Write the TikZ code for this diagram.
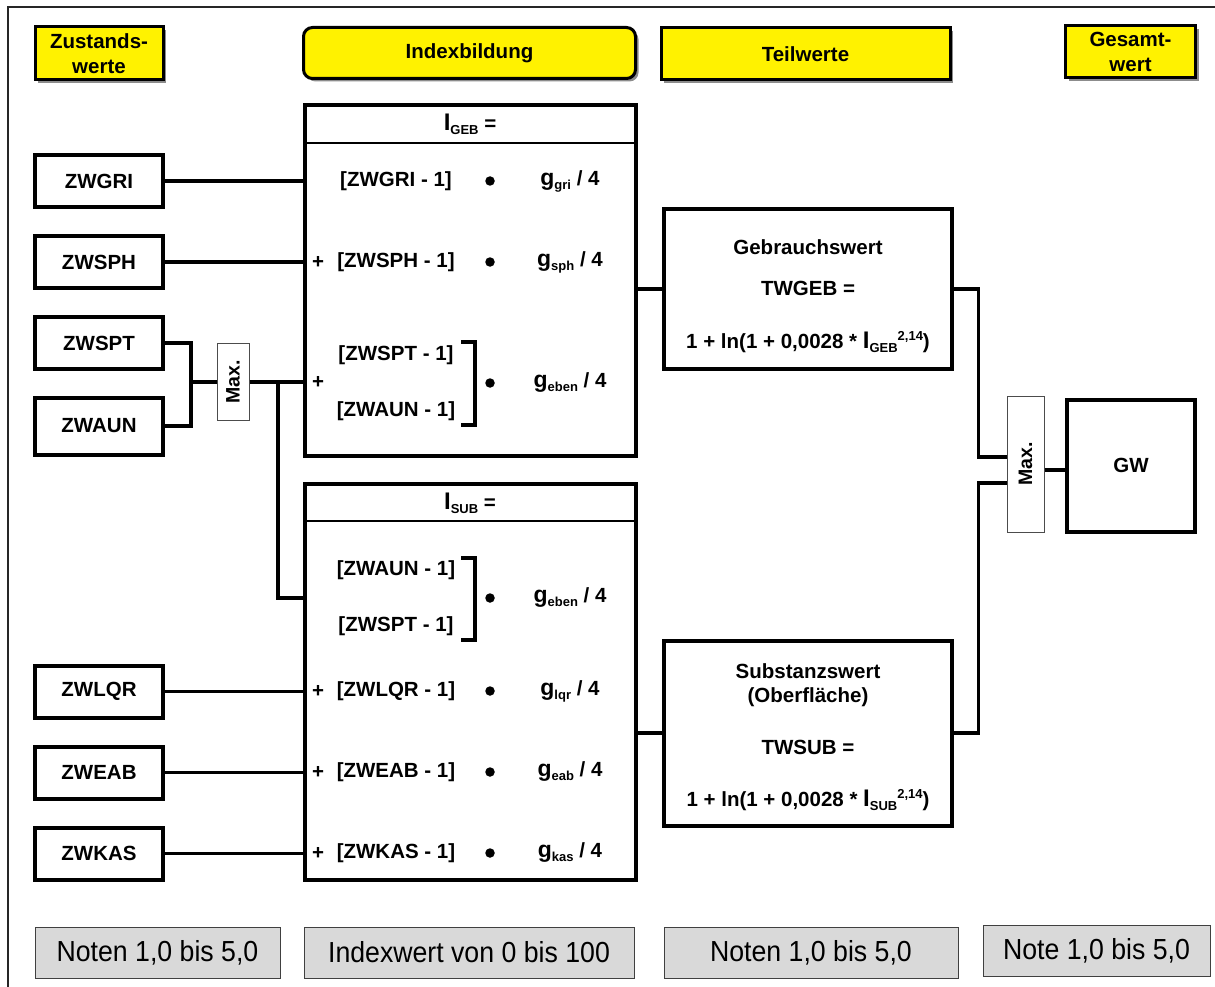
\documentclass[tikz,border=0pt]{standalone}
\usepackage{fontspec}
\setmainfont{Liberation Sans}
\newfontfamily\narrowsans[FakeStretch=0.92]{Liberation Sans}
\usetikzlibrary{shadows}
\definecolor{hdryellow}{HTML}{FFF200}
\definecolor{notegray}{HTML}{D9D9D9}
\newcommand{\bsz}{\bfseries\fontsize{20.5}{25}\selectfont}
\newcommand{\mysub}[1]{\raisebox{-4pt}{\fontsize{13}{13}\selectfont #1}}
\newcommand{\mysup}[1]{\raisebox{8.5pt}{\fontsize{13}{13}\selectfont #1}}
\newcommand{\bigI}{{\fontsize{24}{24}\selectfont I}}
\newcommand{\biggee}{{\fontsize{23}{24}\selectfont g}}
\begin{document}
\begin{tikzpicture}[x=1pt,y=-1pt,
  hdr/.style={draw=black,line width=3pt,fill=hdryellow,align=center,font=\bsz,inner sep=0pt,
    drop shadow={shadow xshift=3pt,shadow yshift=-3pt,fill=black!45,opacity=1}},
  zw/.style={draw=black,line width=4pt,minimum width=128pt,minimum height=52pt,inner sep=0pt,font=\bsz},
  bigbox/.style={draw=black,line width=4pt,inner sep=0pt,fill=white},
  maxbox/.style={draw=black!70,line width=1pt,fill=white,inner sep=0pt},
  conn/.style={line width=3.5pt,line join=miter},
  txt/.style={font=\bsz,inner sep=0pt},
  dot/.style={circle,fill=black,inner sep=0pt,minimum size=9.5pt},
  brk/.style={line width=3.5pt,line join=miter},
  note/.style={draw=black!75,line width=1pt,fill=notegray,inner sep=0pt,
    font=\narrowsans\fontsize{29}{32}\selectfont,minimum height=51pt}
]
\useasboundingbox (0,0) rectangle (1215,987);
\draw[line width=1.5pt,black!85] (8,987) -- (8,7) -- (1215,7);

% headers
\node[hdr,minimum width=128pt,minimum height=53pt] (hzw) at (99,53.5) {Zustands-\\werte};
\node[hdr,rounded corners=9pt,minimum width=332pt,minimum height=51pt] (hidx) at (469.5,53) {Indexbildung};
\node[hdr,minimum width=289pt,minimum height=52pt] (htw) at (805.5,54) {Teilwerte};
\node[hdr,minimum width=130pt,minimum height=52pt] (hgw) at (1130.5,52) {Gesamt-\\wert};

% left boxes
\node[zw] (zwgri) at (99,181) {ZWGRI};
\node[zw] (zwsph) at (99,262) {ZWSPH};
\node[zw] (zwspt) at (99,343) {ZWSPT};
\node[zw,minimum height=57pt] (zwaun) at (99,426) {ZWAUN};
\node[zw] (zwlqr) at (99,691.5) {ZWLQR};
\node[zw] (zweab) at (99,772.5) {ZWEAB};
\node[zw] (zwkas) at (99,853.5) {ZWKAS};

% index boxes
\node[bigbox,minimum width=331pt,minimum height=351pt] (igeb) at (470.5,280.5) {};
\node[bigbox,minimum width=331pt,minimum height=396pt] (isub) at (470.5,682) {};
\draw[line width=2pt] (igeb.west |- 0,143) -- (igeb.east |- 0,143);
\draw[line width=2pt] (isub.west |- 0,521) -- (isub.east |- 0,521);

% IGEB contents
\node[txt] (tgeb) at (470,124) {\bigI\mysub{GEB} =};
\node[txt] (r1a) at (396,181) {[ZWGRI - 1]};
\node[dot] (d1) at (490,181) {};
\node[txt] (r1b) at (570,181) {\biggee\mysub{gri} / 4};
\node[txt] (p2) at (318,262) {+};
\node[txt] (r2a) at (396,262) {[ZWSPH - 1]};
\node[dot] (d2) at (490,262) {};
\node[txt] (r2b) at (570,262) {\biggee\mysub{sph} / 4};
\node[txt] (p3) at (318,382) {+};
\node[txt] (r3a) at (396,355) {[ZWSPT - 1]};
\node[txt] (r3c) at (396,411) {[ZWAUN - 1]};
\draw[brk] (461,342) -- (475,342) -- (475,425) -- (461,425);
\node[dot] (d3) at (490,383) {};
\node[txt] (r3b) at (570,383) {\biggee\mysub{eben} / 4};

% ISUB contents
\node[txt] (tsub) at (470,503) {\bigI\mysub{SUB} =};
\node[txt] (s1a) at (396,570) {[ZWAUN - 1]};
\node[txt] (s1c) at (396,626) {[ZWSPT - 1]};
\draw[brk] (461,558) -- (475,558) -- (475,640) -- (461,640);
\node[dot] (e1) at (490,598) {};
\node[txt] (s1b) at (570,598) {\biggee\mysub{eben} / 4};
\node[txt] (q2) at (318,691) {+};
\node[txt] (s2a) at (396,691) {[ZWLQR - 1]};
\node[dot] (e2) at (490,691) {};
\node[txt] (s2b) at (570,691) {\biggee\mysub{lqr} / 4};
\node[txt] (q3) at (318,772) {+};
\node[txt] (s3a) at (396,772) {[ZWEAB - 1]};
\node[dot] (e3) at (490,772) {};
\node[txt] (s3b) at (570,772) {\biggee\mysub{eab} / 4};
\node[txt] (q4) at (318,853) {+};
\node[txt] (s4a) at (396,853) {[ZWKAS - 1]};
\node[dot] (e4) at (490,853) {};
\node[txt] (s4b) at (570,853) {\biggee\mysub{kas} / 4};

% Teilwerte boxes
\node[bigbox,minimum width=288pt,minimum height=159pt] (twgeb) at (807.5,289) {};
\node[txt] (tg1) at (808,247) {Gebrauchswert};
\node[txt] (tg2) at (808,288) {TWGEB =};
\node[txt] (tg3) at (808,342) {1 + ln(1 + 0,0028 * \bigI\mysub{GEB}\mysup{2,14})};
\node[bigbox,minimum width=288pt,minimum height=185pt] (twsub) at (807.5,733) {};
\node[txt] (ts1) at (808,671) {Substanzswert};
\node[txt] (ts2) at (808,697) {(Oberfläche)};
\node[txt] (ts3) at (808,747) {TWSUB =};
\node[txt] (ts4) at (808,800) {1 + ln(1 + 0,0028 * \bigI\mysub{SUB}\mysup{2,14})};

% Max boxes and GW
\node[maxbox,minimum width=32pt,minimum height=77pt] (max1) at (233,382) {};
\node[txt,rotate=90,font=\bfseries\fontsize{19.5}{20}\selectfont] (max1t) at (max1) {Max.};
\node[maxbox,minimum width=37pt,minimum height=136pt] (max2) at (1025.5,464) {};
\node[txt,rotate=90,font=\bfseries\fontsize{19.5}{20}\selectfont] (max2t) at (max2) {Max.};
\node[bigbox,minimum width=128pt,minimum height=132pt,font=\bsz] (gw) at (1131,465.5) {GW};

% connectors
\coordinate (j1) at (191,382);
\coordinate (j2) at (278,382);
\coordinate (subgrp) at (304,598);
\coordinate (m2a) at (1007,457);
\coordinate (m2b) at (1007,483);
\coordinate (gwc) at (1050,470);
\draw[conn] (zwgri.east) -- (zwgri.east -| igeb.west);
\draw[conn] (zwsph.east) -- (zwsph.east -| igeb.west);
\draw[conn] (zwspt.east) -| (j1) |- (zwaun.east);
\draw[conn] (j1) -- (max1.west);
\draw[conn] (max1.east) -- (max1.east -| igeb.west);
\draw[conn] (j2) |- (subgrp -| isub.west);
\draw[conn] (zwlqr.east) -- (zwlqr.east -| isub.west);
\draw[conn] (zweab.east) -- (zweab.east -| isub.west);
\draw[conn] (zwkas.east) -- (zwkas.east -| isub.west);
\draw[conn] (igeb.east |- twgeb.west) -- (twgeb.west);
\draw[conn] (isub.east |- twsub.west) -- (twsub.west);
\draw[conn] (twgeb.east) -- ++(25,0) |- (m2a -| max2.west);
\draw[conn] (twsub.east) -- ++(25,0) |- (m2b -| max2.west);
\draw[conn] (gwc -| max2.east) -- (gwc -| gw.west);

% bottom notes
\node[note,minimum width=245pt] (n1) at (157.5,952.5) {Noten 1,0 bis 5,0};
\node[note,minimum width=330pt] (n2) at (469,952.5) {Indexwert von 0 bis 100};
\node[note,minimum width=294pt] (n3) at (811,952.5) {Noten 1,0 bis 5,0};
\node[note,minimum width=227pt] (n4) at (1096.5,951) {Note 1,0 bis 5,0};
\end{tikzpicture}
\end{document}
